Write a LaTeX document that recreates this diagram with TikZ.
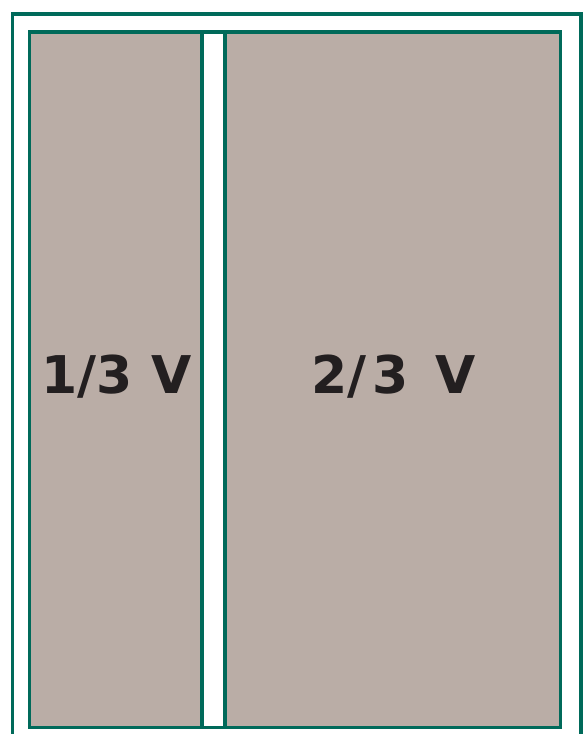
\documentclass[tikz,border=0pt]{standalone}
\usepackage{fontspec}
\setmainfont{DejaVu Sans}
\definecolor{framegreen}{HTML}{006A5A}
\definecolor{panelfill}{HTML}{BAADA6}
\definecolor{textdark}{HTML}{231F20}
\begin{document}
\begin{tikzpicture}[x=1pt,y=-1pt,
  frameline/.style={draw=framegreen,line width=3.2pt},
  panel/.style={fill=panelfill},
  label/.style={text=textdark,font=\fontsize{52}{52}\selectfont\bfseries,anchor=base,inner sep=0pt}]
\useasboundingbox (0,0) rectangle (584,734);
\clip (0,0) rectangle (584,734);
% outer frame
\draw[frameline] (12.5,745) -- (12.5,14) -- (581,14) -- (581,745);
% panels
\fill[panel] (29.5,32) rectangle (202,727.5);
\fill[panel] (225,32) rectangle (560.5,727.5);
\draw[frameline] (29.5,32) rectangle (560.5,727.5);
\draw[frameline] (202,32) -- (202,727.5);
\draw[frameline] (225,32) -- (225,727.5);
% labels
\node[label] (left) at (116.5,393) {1/3 V};
\node[label] (right) at (393.5,393) {2/\kern6pt3\kern8pt\ V};
\end{tikzpicture}
\end{document}
